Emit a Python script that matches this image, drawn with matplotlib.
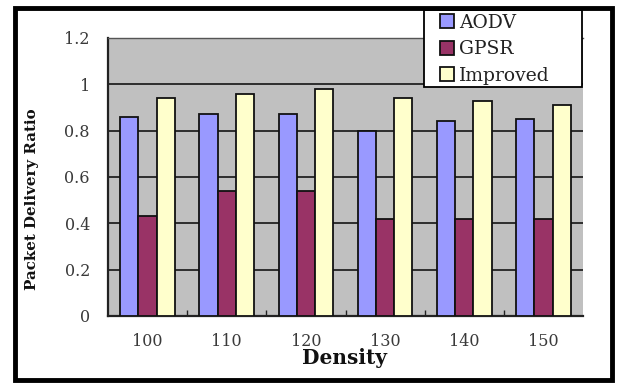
import matplotlib
matplotlib.use('Agg')
import matplotlib.pyplot as plt
from matplotlib.patches import Rectangle
import numpy as np

density = ['100', '110', '120', '130', '140', '150']
aodv     = [0.86, 0.87, 0.87, 0.80, 0.84, 0.85]
gpsr     = [0.43, 0.54, 0.54, 0.42, 0.42, 0.42]
improved = [0.94, 0.96, 0.98, 0.94, 0.93, 0.91]

series = [('AODV', aodv, '#9999ff'),
          ('GPSR', gpsr, '#993366'),
          ('Improved', improved, '#ffffcc')]

W, H = 617, 383
fig = plt.figure(figsize=(W / 100, H / 100), dpi=100)
fig.patch.set_facecolor('white')

SERIF = 'DejaVu Serif'

def fx(px):
    return px / W

def fy(px):
    return 1 - px / H

# plot area in pixel terms
left, right, top, bottom = 108, 583, 38, 316
ax = fig.add_axes([fx(left), fy(bottom), (right - left) / W, (bottom - top) / H])
ax.set_facecolor('#c0c0c0')

x = np.arange(len(density))
bw = 0.23
for i, (name, vals, col) in enumerate(series):
    ax.bar(x + (i - 1) * bw, vals, bw, color=col, edgecolor='#111111',
           linewidth=1.3, label=name, zorder=3)

ax.set_xlim(-0.5, len(density) - 0.5)
ax.set_ylim(0, 1.2)
ax.set_yticks(np.arange(0, 1.21, 0.2))
ax.set_yticklabels(['0', '0.2', '0.4', '0.6', '0.8', '1', '1.2'])
ax.yaxis.grid(True, color='#222222', linewidth=1.3, zorder=1)
ax.set_axisbelow(True)

ax.set_xticks(x)
ax.set_xticklabels(density)
ax.set_xticks(np.arange(0.5, len(density) - 0.5, 1), minor=True)
ax.tick_params(axis='x', which='major', length=0, pad=12)
ax.tick_params(axis='x', which='minor', length=4, direction='in', width=1, color='#222222')
ax.tick_params(axis='y', length=0, pad=13)
for lbl in ax.get_xticklabels() + ax.get_yticklabels():
    lbl.set_fontfamily(SERIF)
    lbl.set_fontsize(11.5)
    lbl.set_color('#3a3a3a')

for side in ['left', 'bottom']:
    ax.spines[side].set_color('#222222')
    ax.spines[side].set_linewidth(1.6)
ax.spines['top'].set_color('#555555')
ax.spines['top'].set_linewidth(1.0)
ax.spines['right'].set_visible(False)

fig.text(fx(32), fy(199), 'Packet Delivery Ratio', rotation=90,
         ha='center', va='center', fontsize=10.8, fontweight='bold',
         family=SERIF, color='#111111')
fig.text(fx(344), fy(358), 'Density', ha='center', va='center',
         fontsize=14.5, fontweight='bold', family=SERIF, color='#111111')

# legend box drawn separately, entries placed inside it
fig.patches.append(Rectangle((fx(424), fy(87)), (582 - 424) / W, (87 - 10) / H,
                             transform=fig.transFigure, facecolor='white',
                             edgecolor='black', linewidth=1.3, zorder=4))
leg = fig.legend(loc='upper left', bbox_to_anchor=(fx(438), fy(12)),
                 frameon=False, prop={'family': SERIF, 'size': 13.5},
                 handlelength=0.75, handleheight=0.75, handletextpad=0.25,
                 labelspacing=0.45, borderpad=0.1, borderaxespad=0)
leg.set_zorder(5)
for t in leg.get_texts():
    t.set_color('#222222')

# thick frame round the whole chart
fig.patches.append(Rectangle((fx(15), fy(380)), (612 - 15) / W, (380 - 8) / H,
                             transform=fig.transFigure, fill=False,
                             edgecolor='black', linewidth=3.5, zorder=6))

fig.savefig('out.png', dpi=100)
